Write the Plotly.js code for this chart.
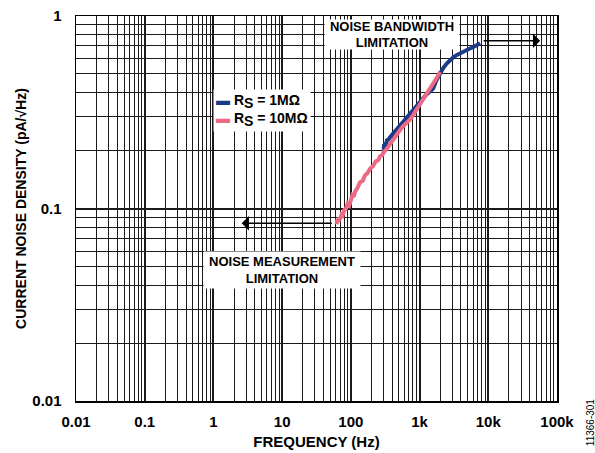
<!DOCTYPE html>
<html>
<head>
<meta charset="utf-8">
<script src="https://cdn.plot.ly/plotly-3.0.1.min.js"></script>
<style>html,body{margin:0;padding:0;background:#fff;}#chart{width:595px;height:453px;}</style>
</head>
<body>
<div id="chart"></div>
<script>
// Rs = 1 MOhm series (frequency Hz, noise pA/rtHz)
const freq1M = [300, 305, 312, 318, 325, 335, 350, 370, 390, 420, 450, 490, 530, 575, 630, 690, 750, 820, 900, 1000, 1100, 1250, 1400, 1574, 1750, 1987, 2220, 2500, 2800, 3100, 3500, 3900, 4400, 4860, 5400, 6000, 6600, 7200, 7600];
const noise1M = [0.202, 0.216, 0.208, 0.221, 0.214, 0.226, 0.228, 0.234, 0.238, 0.247, 0.254, 0.265, 0.272, 0.281, 0.292, 0.305, 0.316, 0.329, 0.343, 0.360, 0.374, 0.390, 0.404, 0.420, 0.462, 0.502, 0.538, 0.568, 0.594, 0.610, 0.628, 0.642, 0.656, 0.664, 0.678, 0.688, 0.702, 0.710, 0.721];

// Rs = 10 MOhm series
const freq10M = [62, 64, 66, 68, 70, 73, 76, 80, 85, 90, 95, 100, 105, 110, 115, 125, 136, 148, 160, 175, 190, 210, 230, 250, 266, 285, 300, 330, 360, 400, 440, 500, 560, 620, 680, 728, 800, 900, 1000, 1100, 1200, 1320, 1450, 1600, 1780, 1987];
const noise10M = [0.083, 0.088, 0.085, 0.090, 0.088, 0.093, 0.092, 0.098, 0.100, 0.106, 0.104, 0.112, 0.117, 0.115, 0.122, 0.128, 0.137, 0.139, 0.148, 0.153, 0.161, 0.166, 0.176, 0.178, 0.187, 0.189, 0.196, 0.203, 0.213, 0.224, 0.237, 0.251, 0.265, 0.273, 0.284, 0.290, 0.305, 0.325, 0.345, 0.362, 0.380, 0.400, 0.422, 0.448, 0.478, 0.512];

const xTickVals = [0.01, 0.1, 1, 10, 100, 1000, 10000, 100000];
const xTickText = ['0.01', '0.1', '1', '10', '100', '1k', '10k', '100k'];
const yTickVals = [0.01, 0.1, 1];
const yTickText = ['0.01', '0.1', '1'];

const seriesNames = ['R<sub><span style="font-size:14px">S</span></sub> = 1MΩ', 'R<sub><span style="font-size:14px">S</span></sub> = 10MΩ'];
const seriesColors = ['#1d3a8a', '#ec6a84'];

function minorVals(d0, d1) {
  const out = [];
  for (let d = d0; d < d1; d++) for (let k = 2; k <= 9; k++) out.push(k * Math.pow(10, d));
  return out;
}

const FONT = 'Arial, "Liberation Sans", Helvetica, sans-serif';

const traces = [
  {x: freq1M, y: noise1M, type: 'scatter', mode: 'lines', name: seriesNames[0],
   line: {color: seriesColors[0], width: 4}, showlegend: false},
  {x: freq10M, y: noise10M, type: 'scatter', mode: 'lines', name: seriesNames[1],
   line: {color: seriesColors[1], width: 4}, showlegend: false}
];

const legendText = seriesNames.map((n, i) =>
  '<span style="color:' + seriesColors[i] + '">▬</span> ' + n).join('<br>');

const gridCol = '#1a1a1a';
const axisCommon = {
  type: 'log', showline: true, mirror: true, linecolor: '#000', linewidth: 1.5,
  showgrid: true, gridcolor: gridCol, gridwidth: 2, zeroline: false,
  ticks: '', tickfont: {family: FONT, size: 15, color: '#000', weight: 'bold'},
  tickmode: 'array'
};

const layout = {
  width: 595, height: 453,
  margin: {l: 76, r: 38, t: 16, b: 52},
  paper_bgcolor: '#fff', plot_bgcolor: '#fff',
  font: {family: FONT, color: '#000'},
  showlegend: false,
  xaxis: Object.assign({}, axisCommon, {
    range: [-2, 5], tickvals: xTickVals, ticktext: xTickText, ticklabelstandoff: 6,
    minor: {tickmode: 'array', tickvals: minorVals(-2, 5), showgrid: true, gridcolor: gridCol, gridwidth: 1},
    title: {text: 'FREQUENCY (Hz)', font: {family: FONT, size: 15, weight: 'bold'}, standoff: 8}
  }),
  yaxis: Object.assign({}, axisCommon, {
    range: [-2, 0], tickvals: yTickVals, ticktext: yTickText, ticklabelstandoff: 10,
    minor: {tickmode: 'array', tickvals: minorVals(-2, 0), showgrid: true, gridcolor: gridCol, gridwidth: 1},
    title: {text: 'CURRENT NOISE DENSITY (pA/√Hz)', font: {family: FONT, size: 14, weight: 'bold'}, standoff: 2}
  }),
  annotations: [
    {xref: 'paper', yref: 'paper', x: 0.285, y: 0.81, xanchor: 'left', yanchor: 'top',
     text: legendText, align: 'left', showarrow: false, bgcolor: '#fff', borderpad: 2,
     font: {family: FONT, size: 14, weight: 'bold', color: '#000'}},
    {xref: 'x', yref: 'y', x: Math.log10(400), y: Math.log10(0.805), text: 'NOISE BANDWIDTH<br>LIMITATION',
     showarrow: false, bgcolor: '#fff', width: 134, height: 29, borderpad: 0,
     font: {family: FONT, size: 13, weight: 'bold', color: '#000'}},
    {xref: 'x', yref: 'y', x: Math.log10(9.9), y: Math.log10(0.048), text: 'NOISE MEASUREMENT<br>LIMITATION',
     showarrow: false, bgcolor: '#fff', width: 156, height: 36, borderpad: 0,
     font: {family: FONT, size: 13, weight: 'bold', color: '#000'}},
    {xref: 'x', yref: 'y', axref: 'x', ayref: 'y', x: Math.log10(56800), y: Math.log10(0.744),
     ax: Math.log10(8130), ay: Math.log10(0.744), text: '', showarrow: true,
     arrowhead: 1, arrowsize: 1.6, arrowwidth: 1.5, arrowcolor: '#000'},
    {xref: 'x', yref: 'y', axref: 'x', ayref: 'y', x: Math.log10(2.58), y: Math.log10(0.0838),
     ax: Math.log10(55.6), ay: Math.log10(0.0838), text: '', showarrow: true,
     arrowhead: 1, arrowsize: 1.6, arrowwidth: 1.5, arrowcolor: '#000'},
    {xref: 'paper', yref: 'paper', x: 1.0686, y: -0.055, xanchor: 'center', yanchor: 'middle',
     text: '11366-301', textangle: -90,
     showarrow: false, font: {family: FONT, size: 10, color: '#000'}}
  ]
};

Plotly.newPlot('chart', traces, layout, {displayModeBar: false, staticPlot: true});
</script>
</body>
</html>
